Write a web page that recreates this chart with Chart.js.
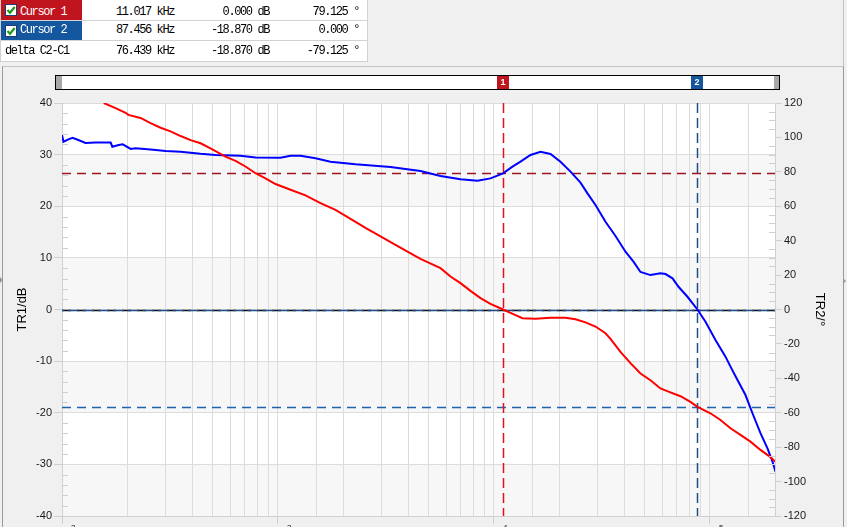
<!DOCTYPE html>
<html>
<head>
<meta charset="utf-8">
<script src="https://cdn.jsdelivr.net/npm/chart.js@4.4.0/dist/chart.umd.min.js"></script>
<style>
  html, body { margin: 0; padding: 0; background: #f0f0f0; overflow: hidden; }
  #wrap { position: relative; width: 847px; height: 527px; overflow: hidden; }
  #chart { position: absolute; left: 0; top: 0; }
  #panel { position: absolute; left: 2px; top: 66px; width: 840px; height: 470px;
           border-left: 1px solid #9a9a9a; border-top: 1px solid #c4c4c4; border-right: 1px solid #9a9a9a; }
  #rline { position: absolute; left: 843px; top: 0; width: 1px; height: 66px; background: #c4c4c4; }
  .grip { position: absolute; width: 0; height: 0; border-top: 3px solid transparent; border-bottom: 3px solid transparent; }
  .cell { position: absolute; box-sizing: border-box; border-right: 1px solid #d2d2d2; border-bottom: 1px solid #d2d2d2;
          background: #fff; font-family: "Liberation Mono", monospace; font-size: 12px; letter-spacing: -1.4px;
          white-space: pre; color: #000; }
  .num { text-align: right; }
  .cb { position: absolute; left: 4px; top: 4px; width: 12px; height: 12px; }
</style>
</head>
<body>
<div id="wrap">
  <canvas id="chart" width="847" height="545"></canvas>
  <div id="panel"></div>
  <div id="rline"></div>
  <div class="grip" style="left:0;top:277px;border-left:3px solid #9a9a9a;"></div>
  <div class="grip" style="left:843px;top:278px;border-left:3px solid #9a9a9a;"></div>
  <div id="table"></div>
</div>
<script>
// Loop gain measurement: TR1 = gain (dB), TR2 = phase (deg)
const gainFreq = [156, 177, 197, 203, 231, 257, 286, 318, 354, 394,
  438, 487, 571, 636, 707, 787, 875, 974, 1143, 1341,
  1573, 1846, 2542, 3499, 4567, 5654, 6290, 6997, 7784, 8661,
  9634, 11017, 12580, 13550, 15570, 18260, 21430, 23840, 26530, 29510,
  32830, 34620, 38510, 42850, 47670, 53030, 58990, 64260, 73010, 81220,
  87456, 100500, 111860, 124450, 138400, 154000, 171300, 190600, 201100];
const gainDb = [40.0, 39.0, 38.1, 37.7, 37.1, 36.1, 35.2, 34.5, 33.6, 32.8,
  32.2, 31.2, 29.6, 28.8, 27.7, 26.4, 25.4, 24.3, 23.2, 22.1,
  20.6, 19.3, 15.8, 12.5, 9.8, 8.0, 6.4, 5.1, 3.6, 2.2,
  1.1, 0.0, -1.1, -1.7, -1.8, -1.6, -1.6, -1.9, -2.5, -3.3,
  -4.6, -5.7, -8.2, -10.4, -12.4, -13.7, -15.3, -15.9, -16.8, -17.9,
  -18.87, -20.1, -21.4, -23.0, -24.3, -25.6, -27.2, -28.6, -29.5];

const phaseFreq = [100, 101.6, 107, 112, 119, 128.5, 143, 168, 171, 183,
  191, 208, 219, 257, 302, 354, 438, 514, 671, 787,
  1027, 1143, 1271, 1492, 1750, 2285, 3318, 4567, 5654, 6997,
  8387, 9634, 11017, 12180, 13270, 14760, 16420, 18260, 20320, 22610,
  25150, 27090, 29510, 32830, 36530, 40630, 44240, 47670, 53030, 58990,
  62230, 67070, 71490, 78660, 87456, 95330, 106040, 118000, 124450, 134100,
  146000, 157300, 171300, 184600, 194700, 201100];
const phaseDeg = [101.4, 97.5, 98.9, 99.8, 98.5, 96.8, 97.0, 97.0, 94.6, 95.6,
  96.0, 93.3, 93.7, 93.0, 92.1, 91.7, 90.5, 89.8, 89.4, 88.4,
  88.2, 89.4, 89.4, 87.9, 85.9, 84.4, 82.8, 80.5, 77.6, 75.7,
  74.8, 76.2, 79.125, 83.0, 85.9, 89.8, 91.7, 90.4, 85.9, 80.1,
  73.7, 67.5, 60.7, 51.0, 42.7, 33.6, 27.8, 21.8, 20.0, 21.0,
  20.6, 18.1, 13.2, 7.4, 0.0, -7.1, -17.7, -27.4, -33.2, -41.0,
  -49.7, -60.3, -71.9, -80.7, -88.4, -94.2];

// cursors
const cursorNames = ['Cursor 1', 'Cursor 2'];
const cursorFreq = [11017, 87456];
const cursorGain = [0.000, -18.870];
const cursorPhase = [79.125, 0.000];
const cursorColors = ['#c0141e', '#14579e'];

// axes
const xDecades = [100, 1000, 10000, 100000];
const xExponents = ['2', '3', '4', '5'];

// ---- cursor table ----
(function buildTable() {
  const tbl = document.getElementById('table');
  const colLeft = [0, 82, 177, 272];
  const colW = [83, 96, 96, 96];
  const rowTop = [0, 21, 41];
  const rowH = [21, 20, 21];
  const rows = [
    [cursorNames[0], (cursorFreq[0] / 1000).toFixed(3) + ' kHz', cursorGain[0].toFixed(3) + ' dB', cursorPhase[0].toFixed(3) + ' °'],
    [cursorNames[1], (cursorFreq[1] / 1000).toFixed(3) + ' kHz', cursorGain[1].toFixed(3) + ' dB', cursorPhase[1].toFixed(3) + ' °'],
    ['delta C2-C1', ((cursorFreq[1] - cursorFreq[0]) / 1000).toFixed(3) + ' kHz',
      (cursorGain[1] - cursorGain[0]).toFixed(3) + ' dB', (cursorPhase[1] - cursorPhase[0]).toFixed(3) + ' °']
  ];
  const padR = [0, 3, 3, 8];
  rows.forEach((r, ri) => {
    r.forEach((txt, ci) => {
      const d = document.createElement('div');
      d.className = 'cell' + (ci > 0 ? ' num' : '');
      d.style.left = colLeft[ci] + 'px';
      d.style.top = rowTop[ri] + 'px';
      d.style.width = colW[ci] + 'px';
      d.style.height = rowH[ri] + 'px';
      d.style.lineHeight = (rowH[ri] - 1) + 'px';
      if (ri === 0) d.style.paddingTop = '2px';
      if (ci === 0) d.style.borderLeft = '1px solid #d2d2d2';
      if (ci > 0) d.style.paddingRight = padR[ci] + 'px';
      if (ci === 0 && ri < 2) {
        d.style.background = cursorColors[ri];
        d.style.color = '#fff';
        d.style.paddingLeft = '19px';
        d.innerHTML = '<svg class="cb" viewBox="0 0 12 12"><rect x="0.5" y="0.5" width="11" height="11" fill="#fff" stroke="#1c3a78"/>' +
          '<path d="M2.5 6 L5 8.8 L9.7 3" fill="none" stroke="#1b9a1b" stroke-width="2.2"/></svg>';
        d.appendChild(document.createTextNode(txt));
      } else {
        if (ci === 0) d.style.paddingLeft = '4px';
        d.textContent = txt;
      }
      tbl.appendChild(d);
    });
  });
})();

// ---- plugins ----
const plotBackground = {
  id: 'plotBackground',
  beforeDraw(chart) {
    const { ctx, chartArea: a } = chart;
    const ys = chart.scales.y;
    ctx.save();
    ctx.fillStyle = '#ffffff';
    ctx.fillRect(a.left, a.top, a.right - a.left, a.bottom - a.top);
    const vals = ys.ticks.map(t => t.value).sort((p, q) => q - p);
    ctx.fillStyle = '#f7f7f7';
    for (let i = 1; i < vals.length - 1; i += 2) {
      const y1 = ys.getPixelForValue(vals[i]);
      const y2 = ys.getPixelForValue(vals[i + 1]);
      ctx.fillRect(a.left, y1, a.right - a.left, y2 - y1);
    }
    ctx.restore();
  }
};

const cursorLines = {
  id: 'cursorLines',
  beforeDatasetsDraw(chart) {
    const { ctx, chartArea: a, scales } = chart;
    ctx.save();
    ctx.lineWidth = 1.5;
    function hLine(scale, v, color, dash, off) {
      const y = Math.round(scale.getPixelForValue(v)) + 0.5;
      ctx.strokeStyle = color;
      ctx.setLineDash(dash);
      ctx.lineDashOffset = off || 0;
      ctx.beginPath(); ctx.moveTo(a.left, y); ctx.lineTo(a.right, y); ctx.stroke();
    }
    function vLine(v, color) {
      const x = Math.round(scales.x.getPixelForValue(v)) + 0.5;
      ctx.strokeStyle = color;
      ctx.setLineDash([10, 5]);
      ctx.lineDashOffset = 0;
      ctx.beginPath(); ctx.moveTo(x, a.top); ctx.lineTo(x, a.bottom); ctx.stroke();
    }
    hLine(scales.y, cursorGain[0], '#111111', [9, 6]);
    hLine(scales.y2, cursorPhase[0], '#9a1520', [9, 6]);
    hLine(scales.y, cursorGain[1], '#1f62b0', [9, 6]);
    hLine(scales.y2, cursorPhase[1], '#1f4e8c', [11, 4], 9);
    vLine(cursorFreq[0], '#e0101e');
    vLine(cursorFreq[1], '#1f4e8c');
    ctx.restore();
  }
};

const extras = {
  id: 'extras',
  afterDraw(chart) {
    const { ctx, chartArea: a, scales } = chart;
    ctx.save();
    // minor ticks inside the plot
    ctx.strokeStyle = '#cfcfcf';
    ctx.lineWidth = 1;
    for (let v = scales.y.min; v <= scales.y.max; v += 2) {
      if (v % 10 === 0) continue;
      const y = Math.round(scales.y.getPixelForValue(v)) + 0.5;
      ctx.beginPath(); ctx.moveTo(a.left, y); ctx.lineTo(a.left + 6, y); ctx.stroke();
    }
    for (let v = scales.y2.min; v <= scales.y2.max; v += 5) {
      if (v % 20 === 0) continue;
      const y = Math.round(scales.y2.getPixelForValue(v)) + 0.5;
      ctx.beginPath(); ctx.moveTo(a.right - 6, y); ctx.lineTo(a.right, y); ctx.stroke();
    }

    // cursor slider bar above the plot
    const bx0 = a.left - 7, bx1 = a.right + 5, by0 = a.top - 28, bh = 14;
    ctx.fillStyle = '#ffffff';
    ctx.fillRect(bx0, by0, bx1 - bx0, bh);
    ctx.fillStyle = '#a8a8a8';
    ctx.fillRect(bx0 + 1, by0 + 1, 6, bh - 1);
    ctx.fillRect(bx1 - 6, by0 + 1, 5, bh - 1);
    ctx.strokeStyle = '#000';
    ctx.strokeRect(bx0 + 0.5, by0 + 0.5, bx1 - bx0 - 1, bh);
    ctx.font = 'bold 9px "Liberation Sans", Arial';
    ctx.textAlign = 'center';
    ctx.textBaseline = 'middle';
    cursorFreq.forEach((f, i) => {
      const x = Math.round(scales.x.getPixelForValue(f));
      ctx.fillStyle = cursorColors[i];
      ctx.fillRect(x - 6, by0 + 1, 12, bh - 1);
      ctx.fillStyle = '#ffffff';
      ctx.fillText(String(i + 1), x, by0 + bh / 2 + 1);
    });

    // decade labels 10^n under the x axis (mostly below the window edge)
    ctx.fillStyle = '#1a1a1a';
    ctx.textBaseline = 'top';
    xDecades.forEach((d, i) => {
      const x = scales.x.getPixelForValue(d);
      ctx.font = '11px "Liberation Sans", Arial';
      ctx.textAlign = 'center';
      ctx.fillText('10', x, a.bottom + 13);
      ctx.font = '8px "Liberation Sans", Arial';
      ctx.textAlign = 'left';
      ctx.fillText(xExponents[i], x + 9, a.bottom + 8);
    });
    ctx.restore();
  }
};

const isDecade = v => Math.abs(Math.log10(v) - Math.round(Math.log10(v))) < 1e-6;
const tickFont = { size: 11, family: '"Liberation Sans", Arial' };

const chart = new Chart(document.getElementById('chart'), {
  type: 'line',
  data: {
    datasets: [
      {
        label: 'TR1',
        data: gainFreq.map((f, i) => ({ x: f, y: gainDb[i] })),
        borderColor: '#ff0000',
        borderWidth: 2,
        pointRadius: 0,
        tension: 0,
        yAxisID: 'y'
      },
      {
        label: 'TR2',
        data: phaseFreq.map((f, i) => ({ x: f, y: phaseDeg[i] })),
        borderColor: '#0000ff',
        borderWidth: 2,
        pointRadius: 0,
        tension: 0,
        yAxisID: 'y2'
      }
    ]
  },
  options: {
    responsive: false,
    animation: false,
    layout: { padding: { top: 103, left: 0, right: 0, bottom: 0 } },
    plugins: { legend: { display: false }, tooltip: { enabled: false } },
    scales: {
      x: {
        type: 'logarithmic',
        position: 'bottom',
        min: 100,
        max: 200000,
        ticks: { display: false },
        grid: {
          color: '#dcdcdc',
          tickLength: 8,
          tickColor: c => (c.tick && isDecade(c.tick.value)) ? '#cfcfcf' : 'rgba(0,0,0,0)'
        },
        border: { color: '#d0d0d0' },
        afterFit: s => { s.height = 29; }
      },
      y: {
        position: 'left',
        min: -40,
        max: 40,
        ticks: { stepSize: 10, color: '#1a1a1a', font: tickFont, padding: 2 },
        grid: { color: '#dcdcdc', tickLength: 8, tickColor: '#cfcfcf' },
        border: { color: '#d0d0d0' },
        title: { display: true, text: 'TR1/dB', color: '#000', font: { size: 13, family: '"Liberation Sans", Arial' }, padding: { top: 15 } },
        afterFit: s => { s.width = 62; }
      },
      y2: {
        position: 'right',
        min: -120,
        max: 120,
        ticks: { stepSize: 20, color: '#1a1a1a', font: tickFont, padding: 2 },
        grid: { drawOnChartArea: false, tickLength: 7, tickColor: '#cfcfcf' },
        border: { color: '#d0d0d0' },
        title: { display: true, text: 'TR2/°', color: '#000', font: { size: 13, family: '"Liberation Sans", Arial' }, padding: { top: 20 } },
        afterFit: s => { s.width = 72; }
      }
    }
  },
  plugins: [plotBackground, cursorLines, extras]
});
</script>
</body>
</html>
